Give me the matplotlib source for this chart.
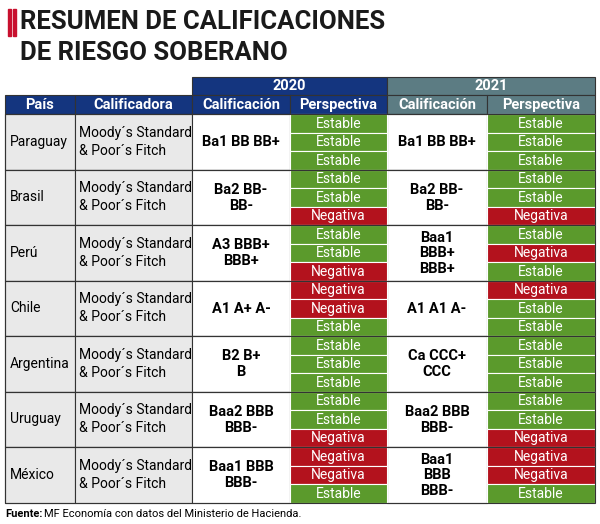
import matplotlib.pyplot as plt
from matplotlib.patches import Rectangle

paises = ["Paraguay", "Brasil", "Perú", "Chile", "Argentina", "Uruguay", "México"]
calif_2020 = ["Ba1 BB BB+", "Ba2 BB-\nBB-", "A3 BBB+\nBBB+", "A1 A+ A-", "B2 B+\nB", "Baa2 BBB\nBBB-", "Baa1 BBB\nBBB-"]
calif_2021 = ["Ba1 BB BB+", "Ba2 BB-\nBB-", "Baa1\nBBB+\nBBB+", "A1 A1 A-", "Ca CCC+\nCCC", "Baa2 BBB\nBBB-", "Baa1\nBBB\nBBB-"]
persp_2020 = [["E", "E", "E"], ["E", "E", "N"], ["E", "E", "N"], ["N", "N", "E"],
              ["E", "E", "E"], ["E", "E", "N"], ["N", "N", "E"]]
persp_2021 = [["E", "E", "E"], ["E", "E", "N"], ["E", "N", "E"], ["N", "E", "E"],
              ["E", "E", "E"], ["E", "E", "N"], ["N", "N", "E"]]

plt.rcParams["font.family"] = ["Liberation Sans Narrow", "Roboto", "DejaVu Sans"]
NAVY, TEAL, GREEN, RED, GREY = "#14357f", "#5c7c83", "#5b9a2c", "#b3121d", "#e9e9e9"

fig = plt.figure(figsize=(6, 5.24), dpi=100)
ax = fig.add_axes([0, 0, 1, 1])
ax.set_xlim(0, 600)
ax.set_ylim(524, 0)
ax.axis("off")

def cell(x0, y0, x1, y1, fc, text="", color="black", size=10, weight="normal", ec="#333333"):
    ax.add_patch(Rectangle((x0, y0), x1 - x0, y1 - y0, facecolor=fc, edgecolor=ec, lw=0.8))
    if text:
        ax.text((x0 + x1) / 2, (y0 + y1) / 2 + 0.5, text, ha="center", va="center",
                color=color, fontsize=size, fontweight=weight, linespacing=1.15)

# title
ax.add_patch(Rectangle((8, 9), 3, 27, color="#c8102e"))
ax.add_patch(Rectangle((13, 9), 3, 27, color="#c8102e"))
ax.text(20, 22, "RESUMEN DE CALIFICACIONES", fontsize=18.5, fontweight="bold", va="center", color="#1a1a1a")
ax.text(20, 53, "DE RIESGO SOBERANO", fontsize=18.5, fontweight="bold", va="center", color="#1a1a1a")

xs = [5, 75, 192, 290, 387, 487, 595]
cell(xs[2], 77, xs[4], 95, NAVY, "2020", "white", 10.5, "bold")
cell(xs[4], 77, xs[6], 95, TEAL, "2021", "white", 10.5, "bold")
heads = ["País", "Calificadora", "Calificación", "Perspectiva", "Calificación", "Perspectiva"]
for i, h in enumerate(heads):
    cell(xs[i], 95, xs[i + 1], 114, TEAL if i >= 4 else NAVY, h, "white", 10.5, "bold")

y0, rh = 114, 18.5
for k, p in enumerate(paises):
    top = y0 + k * 3 * rh
    bot = top + 3 * rh
    ax.add_patch(Rectangle((xs[0], top), xs[1] - xs[0], bot - top, facecolor=GREY, edgecolor="#333333", lw=0.8))
    ax.text(xs[0] + 5, (top + bot) / 2, p, va="center", fontsize=10)
    ax.add_patch(Rectangle((xs[1], top), xs[2] - xs[1], bot - top, facecolor=GREY, edgecolor="#333333", lw=0.8))
    ax.text(xs[1] + 4, (top + bot) / 2, "Moody´s Standard\n& Poor´s Fitch", va="center", fontsize=10, linespacing=1.4)
    cell(xs[2], top, xs[3], bot, "white", calif_2020[k], size=10.5, weight="bold")
    cell(xs[4], top, xs[5], bot, "white", calif_2021[k], size=10.5, weight="bold")
    for j in range(3):
        for col, pp in ((3, persp_2020), (5, persp_2021)):
            v = pp[k][j]
            cell(xs[col], top + j * rh, xs[col + 1], top + (j + 1) * rh,
                 GREEN if v == "E" else RED, "Estable" if v == "E" else "Negativa", "white", 10, ec="white")
    ax.add_patch(Rectangle((xs[0], top), xs[6] - xs[0], bot - top, fill=False, edgecolor="#333333", lw=0.8))

ax.text(5, 514, "Fuente:", fontsize=8, fontweight="bold", va="center")
ax.text(44, 514, "MF Economía con datos del Ministerio de Hacienda.", fontsize=8, va="center")
fig.savefig("out.png", dpi=100)
